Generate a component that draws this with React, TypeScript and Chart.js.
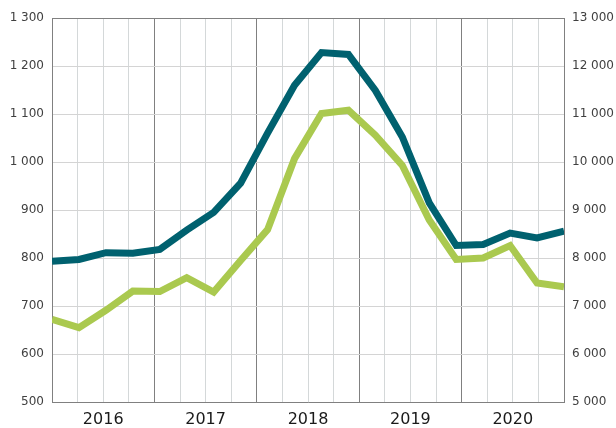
import React, { useEffect, useRef } from "react";
import { Chart, registerables } from "chart.js";

Chart.register(...registerables);

const years = ["2016", "2017", "2018", "2019", "2020"];
const quartersPerYear = 4;
const darkSeries = [793, 797, 811, 810, 818, 858, 895, 956, 1060, 1160, 1228, 1224, 1149, 1052, 915, 826, 828, 852, 842, 856];
const greenSeries = [6720, 6550, 6910, 7310, 7300, 7590, 7290, 7950, 8590, 10070, 11010, 11080, 10560, 9930, 8790, 7970, 8000, 8260, 7480, 7400];
const leftTicks = { min: 500, max: 1300, step: 100 };
const rightTicks = { min: 5000, max: 13000, step: 1000 };

const fmt = (v: number) => {
  if (v >= 1000) {
    return `${Math.floor(v / 1000)} ${String(v % 1000).padStart(3, "0")}`;
  }
  return String(v);
};

export default function App() {
  const ref = useRef<HTMLCanvasElement | null>(null);
  useEffect(() => {
    if (!ref.current) return;
    const n = darkSeries.length;
    const gridCount = years.length * quartersPerYear;
    const tickFont = { family: "DejaVu Sans", size: 12 };
    const chart = new Chart(ref.current, {
      type: "line",
      data: {
        datasets: [
          {
            label: "green",
            data: greenSeries.map((v, i) => ({ x: i, y: v })),
            borderColor: "#aac94f",
            borderWidth: 7,
            pointRadius: 0,
            tension: 0,
            yAxisID: "y2",
          },
          {
            label: "dark",
            data: darkSeries.map((v, i) => ({ x: i, y: v })),
            borderColor: "#00616f",
            borderWidth: 7,
            pointRadius: 0,
            tension: 0,
            yAxisID: "y",
          },
        ],
      },
      options: {
        animation: false,
        responsive: false,
        maintainAspectRatio: false,
        layout: { padding: { top: 18, left: 0, right: 0, bottom: 0 } },
        plugins: { legend: { display: false }, tooltip: { enabled: false } },
        scales: {
          x: {
            type: "linear",
            min: 0,
            max: n - 1,
            afterBuildTicks: (scale: any) => {
              const t = [];
              for (let i = 0; i <= gridCount; i++) t.push({ value: (i * (n - 1)) / gridCount });
              scale.ticks = t;
            },
            afterFit: (scale: any) => {
              scale.height = 26;
            },
            border: { color: "#808080", width: 1 },
            grid: {
              drawTicks: false,
              color: (ctx: any) => (ctx.index % quartersPerYear === 0 ? "#808080" : "#d4d8d9"),
              lineWidth: 1,
            },
            ticks: {
              autoSkip: false,
              maxRotation: 0,
              padding: 8,
              color: "#1a1a1a",
              font: { family: "DejaVu Sans", size: 16 },
              callback: (_v: any, index: number) =>
                index % quartersPerYear === quartersPerYear / 2 ? years[(index - quartersPerYear / 2) / quartersPerYear] : "",
            },
          },
          y: {
            type: "linear",
            position: "left",
            min: leftTicks.min,
            max: leftTicks.max,
            afterFit: (scale: any) => {
              scale.width = 52;
            },
            border: { color: "#808080", width: 1 },
            grid: {
              drawTicks: false,
              color: (ctx: any) => (ctx.tick && ctx.tick.value === leftTicks.max ? "#808080" : "#d4d4d4"),
            },
            ticks: {
              stepSize: leftTicks.step,
              padding: 8,
              color: "#404040",
              font: tickFont,
              callback: (v: any) => fmt(Number(v)),
            },
          },
          y2: {
            type: "linear",
            position: "right",
            min: rightTicks.min,
            max: rightTicks.max,
            afterFit: (scale: any) => {
              scale.width = 52;
            },
            border: { color: "#808080", width: 1 },
            grid: { display: false, drawTicks: false },
            ticks: {
              stepSize: rightTicks.step,
              padding: 8,
              color: "#404040",
              font: tickFont,
              callback: (v: any) => fmt(Number(v)),
            },
          },
        },
      },
    } as any);
    return () => chart.destroy();
  }, []);
  return (
    <div style={{ position: "fixed", left: 0, top: 0, width: 616, height: 428 }}>
      <canvas ref={ref} width={616} height={428} style={{ display: "block" }} />
    </div>
  );
}
